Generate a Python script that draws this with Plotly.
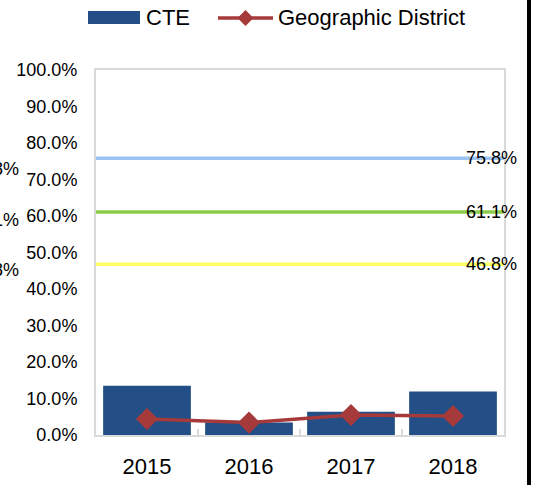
import plotly.graph_objects as go

# Data
years = ["2015", "2016", "2017", "2018"]
cte = [0.135, 0.034, 0.064, 0.119]
district = [0.044, 0.034, 0.055, 0.052]

# Reference levels drawn across the plot
ref_values = [0.758, 0.611, 0.468]
ref_labels = ["75.8%", "61.1%", "46.8%"]
ref_colors = ["#9DC3F2", "#8DCB4B", "#FFFF66"]

# Labels of the neighbouring panel, partly visible at the left edge
side_labels = ["75.8%", "61.1%", "46.8%"]

W, H = 534, 485
L, R, T, B = 96, 30, 70, 50
PW, PH = W - L - R, H - T - B

FONT = "Liberation Sans, Arial, sans-serif"
BAR_COLOR = "#234F86"
LINE_COLOR = "#A63A3A"


def px(x):
    return (x - L) / PW


def py(y):
    return (H - B - y) / PH


fig = go.Figure()

fig.add_trace(go.Bar(
    x=years, y=cte, name="CTE",
    marker=dict(color=BAR_COLOR, line=dict(width=0)),
    showlegend=False,
))

fig.add_trace(go.Scatter(
    x=years, y=district, name="Geographic District",
    mode="lines+markers",
    line=dict(color=LINE_COLOR, width=3.5),
    marker=dict(symbol="diamond", size=17, color=LINE_COLOR),
    showlegend=False,
))

shapes = []
annotations = []

for v, lab, col in zip(ref_values, ref_labels, ref_colors):
    shapes.append(dict(type="line", xref="paper", yref="y", x0=0, x1=1, y0=v, y1=v,
                       line=dict(color=col, width=3.5), layer="above"))
    annotations.append(dict(text=lab, xref="paper", yref="y", x=px(519), y=v,
                            xanchor="right", yanchor="middle", showarrow=False,
                            font=dict(family=FONT, size=18, color="#000000")))

for lab, yy in zip(side_labels, [169, 220, 270]):
    annotations.append(dict(text=lab, xref="paper", yref="paper", x=px(21), y=py(yy),
                            xanchor="right", yanchor="middle", showarrow=False,
                            font=dict(family=FONT, size=18, color="#000000")))

# Legend
shapes.append(dict(type="rect", xref="paper", yref="paper",
                   x0=px(88), x1=px(140), y0=py(24), y1=py(11),
                   fillcolor=BAR_COLOR, line=dict(width=0)))
shapes.append(dict(type="line", xref="paper", yref="paper",
                   x0=px(218), x1=px(273), y0=py(18), y1=py(18),
                   line=dict(color=LINE_COLOR, width=3.5)))
cx, cy, d = 245.5, 18, 8
shapes.append(dict(type="path", xref="paper", yref="paper",
                   path=f"M {px(cx)},{py(cy - d)} L {px(cx + d)},{py(cy)} "
                        f"L {px(cx)},{py(cy + d)} L {px(cx - d)},{py(cy)} Z",
                   fillcolor=LINE_COLOR, line=dict(width=0)))
annotations.append(dict(text="CTE", xref="paper", yref="paper", x=px(144), y=py(17),
                        xanchor="left", yanchor="middle", showarrow=False,
                        font=dict(family=FONT, size=22, color="#000000")))
annotations.append(dict(text="Geographic District", xref="paper", yref="paper",
                        x=px(276), y=py(17), xanchor="left", yanchor="middle",
                        showarrow=False, font=dict(family=FONT, size=22, color="#000000")))

# Black frame edge on the right
shapes.append(dict(type="rect", xref="paper", yref="paper",
                   x0=px(527), x1=px(531), y0=py(H + 2), y1=py(-2),
                   fillcolor="#000000", line=dict(width=0)))

fig.update_layout(
    width=W, height=H,
    margin=dict(l=L, r=R, t=T, b=B, pad=0, autoexpand=False),
    paper_bgcolor="white", plot_bgcolor="white",
    bargap=0.14,
    shapes=shapes,
    annotations=annotations,
    font=dict(family=FONT, color="#000000"),
)

fig.update_xaxes(
    type="category", automargin=False,
    showline=True, linecolor="#D9D9D9", linewidth=2, mirror=True,
    ticks="inside", tickson="boundaries", ticklen=6, tickcolor="#D9D9D9", tickwidth=2,
    tickfont=dict(family=FONT, size=22, color="#000000"),
    ticklabelstandoff=11,
    showgrid=False, zeroline=False,
)

fig.update_yaxes(
    range=[0, 1], dtick=0.1, tickformat=".1%", automargin=False,
    showline=True, linecolor="#D9D9D9", linewidth=2, mirror=True,
    ticks="",
    tickfont=dict(family=FONT, size=18, color="#000000"),
    ticklabelstandoff=13,
    showgrid=False, zeroline=False,
)

fig.write_html("out.html")
